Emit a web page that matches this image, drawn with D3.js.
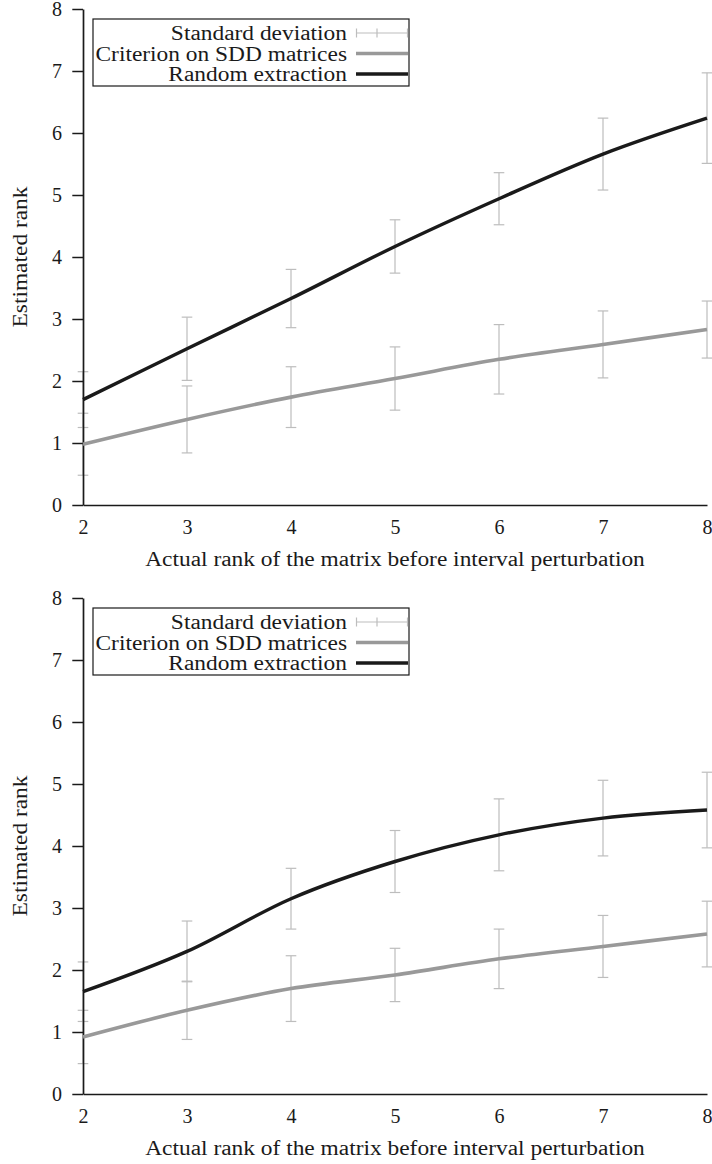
<!DOCTYPE html>
<html>
<head>
<meta charset="utf-8">
<script src="https://cdn.jsdelivr.net/npm/d3@7"></script>
<style>
  html, body { margin: 0; padding: 0; background: #fff; }
  svg { display: block; }
</style>
</head>
<body>
<svg id="chart" width="712" height="1164"></svg>
<script>
// ---- data ----
const ranks = [2, 3, 4, 5, 6, 7, 8];
const yTickValues = [0, 1, 2, 3, 4, 5, 6, 7, 8];
const legendLabels = ["Standard deviation", "Criterion on SDD matrices", "Random extraction"];
const xTitle = "Actual rank of the matrix before interval perturbation";
const yTitle = "Estimated rank";

// top panel
const topRandom      = [1.70, 2.52, 3.33, 4.17, 4.94, 5.66, 6.24];
const topRandomSd    = [0.45, 0.51, 0.47, 0.43, 0.42, 0.58, 0.73];
const topCriterion   = [0.98, 1.38, 1.74, 2.04, 2.35, 2.59, 2.83];
const topCriterionSd = [0.50, 0.54, 0.49, 0.51, 0.56, 0.54, 0.46];

// bottom panel
const botRandom      = [1.65, 2.30, 3.15, 3.75, 4.18, 4.45, 4.58];
const botRandomSd    = [0.48, 0.49, 0.49, 0.50, 0.58, 0.61, 0.61];
const botCriterion   = [0.92, 1.35, 1.70, 1.92, 2.18, 2.38, 2.58];
const botCriterionSd = [0.43, 0.47, 0.53, 0.43, 0.48, 0.50, 0.53];

// ---- style ----
const FONT = "'Liberation Serif', 'Times New Roman', serif";
const FS = 20;
const STRETCH = 1.17;
const BLACK = "#1a1a1a";
const GREY = "#999999";
const ERR = "#bdbdbd";

const svg = d3.select("#chart");

const panels = [
  { top: 9, bottom: 505, random: topRandom, randomSd: topRandomSd, crit: topCriterion, critSd: topCriterionSd },
  { top: 598, bottom: 1094, random: botRandom, randomSd: botRandomSd, crit: botCriterion, critSd: botCriterionSd }
];

function stretchText(sel) {
  sel.each(function () {
    const w = this.getComputedTextLength();
    d3.select(this).attr("textLength", w * STRETCH).attr("lengthAdjust", "spacingAndGlyphs");
  });
}

const x = d3.scaleLinear().domain([2, 8]).range([83, 707]);

panels.forEach(p => {
  const y = d3.scaleLinear().domain([0, 8]).range([p.bottom, p.top]);
  const g = svg.append("g");

  // error bars
  const series = [
    { vals: p.crit, sd: p.critSd },
    { vals: p.random, sd: p.randomSd }
  ];
  const eg = g.append("g").attr("stroke", ERR).attr("stroke-width", 1.2).attr("fill", "none");
  series.forEach(s => {
    ranks.forEach((r, i) => {
      const cx = x(r);
      const y1 = y(s.vals[i] + s.sd[i]);
      const y2 = y(s.vals[i] - s.sd[i]);
      eg.append("line").attr("x1", cx).attr("x2", cx).attr("y1", y1).attr("y2", y2);
      eg.append("line").attr("x1", cx - 5.3).attr("x2", cx + 5.3).attr("y1", y1).attr("y2", y1);
      eg.append("line").attr("x1", cx - 5.3).attr("x2", cx + 5.3).attr("y1", y2).attr("y2", y2);
    });
  });

  // axes
  const yAxis = d3.axisLeft(y).tickValues(yTickValues).tickSize(10.7).tickSizeOuter(0).tickPadding(10.3).tickFormat(d3.format("d"));
  const ya = g.append("g").attr("transform", `translate(${x(2)},0)`).call(yAxis);
  const xAxis = d3.axisBottom(x).tickValues(ranks).tickSize(0).tickSizeOuter(0).tickPadding(15).tickFormat(d3.format("d"));
  const xa = g.append("g").attr("transform", `translate(0,${y(0)})`).call(xAxis);
  [ya, xa].forEach(a => {
    a.select(".domain").attr("stroke", BLACK).attr("stroke-width", 1.7);
    a.selectAll(".tick line").attr("stroke", BLACK).attr("stroke-width", 1.5);
    a.selectAll(".tick text").attr("font-family", FONT).attr("font-size", FS).attr("fill", BLACK);
  });

  // lines
  const line = d3.line().x((d, i) => x(ranks[i])).y(d => y(d)).curve(d3.curveCardinal.tension(0));
  g.append("path").datum(p.crit).attr("d", line).attr("fill", "none").attr("stroke", GREY).attr("stroke-width", 3.6).attr("stroke-linejoin", "round");
  g.append("path").datum(p.random).attr("d", line).attr("fill", "none").attr("stroke", BLACK).attr("stroke-width", 3.4).attr("stroke-linejoin", "round");

  // titles
  const yt = g.append("text")
    .attr("transform", `translate(20,${(y(0) + y(8)) / 2}) rotate(-90)`)
    .attr("text-anchor", "middle").attr("dy", "0.35em")
    .attr("font-family", FONT).attr("font-size", FS).attr("fill", BLACK)
    .text(yTitle);
  const xt = g.append("text")
    .attr("x", (x(2) + x(8)) / 2).attr("y", y(0) + 54)
    .attr("text-anchor", "middle").attr("dy", "0.35em")
    .attr("font-family", FONT).attr("font-size", FS).attr("fill", BLACK)
    .text(xTitle);
  stretchText(yt); stretchText(xt);

  // legend
  const lg = g.append("g").attr("transform", `translate(93,${p.top + 10})`);
  lg.append("rect").attr("x", 0).attr("y", 0).attr("width", 316).attr("height", 67)
    .attr("fill", "#fff").attr("stroke", BLACK).attr("stroke-width", 1.2);
  const rowY = [14, 34.5, 55];
  legendLabels.forEach((lab, i) => {
    const t = lg.append("text").attr("x", 254).attr("y", rowY[i]).attr("dy", "0.35em")
      .attr("text-anchor", "end").attr("font-family", FONT).attr("font-size", FS).attr("fill", BLACK)
      .text(lab);
    stretchText(t);
  });
  // legend samples
  const s0 = lg.append("g").attr("stroke", ERR).attr("stroke-width", 1.2);
  s0.append("line").attr("x1", 263).attr("x2", 315).attr("y1", rowY[0]).attr("y2", rowY[0]);
  s0.append("line").attr("x1", 263.5).attr("x2", 263.5).attr("y1", rowY[0] - 4.5).attr("y2", rowY[0] + 4.5);
  s0.append("line").attr("x1", 314.5).attr("x2", 314.5).attr("y1", rowY[0] - 4.5).attr("y2", rowY[0] + 4.5);
  s0.append("line").attr("x1", 284).attr("x2", 284).attr("y1", rowY[0] - 4.5).attr("y2", rowY[0] + 4.5);
  lg.append("line").attr("x1", 263).attr("x2", 315).attr("y1", rowY[1]).attr("y2", rowY[1])
    .attr("stroke", GREY).attr("stroke-width", 3.6);
  lg.append("line").attr("x1", 263).attr("x2", 315).attr("y1", rowY[2]).attr("y2", rowY[2])
    .attr("stroke", BLACK).attr("stroke-width", 3.4);
});
</script>
</body>
</html>
